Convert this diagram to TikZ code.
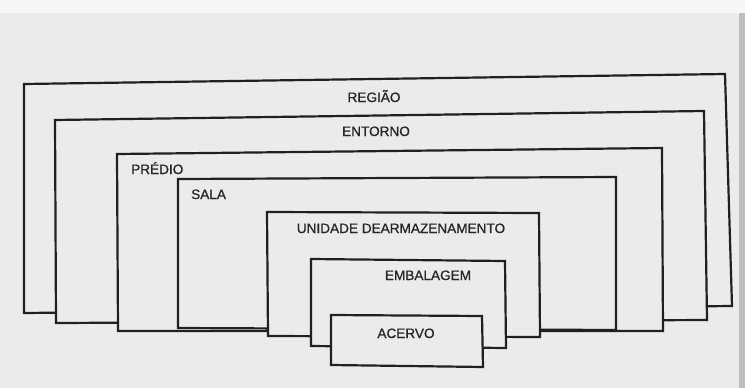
\documentclass[tikz,border=0pt]{standalone}
\usepackage{fontspec}
\setmainfont{Liberation Sans}[FakeBold=0.9]
\definecolor{paper}{HTML}{EBEBEB}
\definecolor{ink}{HTML}{202020}
\definecolor{txt}{HTML}{262626}
\tikzset{
  box/.style={draw=ink, line width=2.2pt, fill=paper, line join=miter},
  lbl/.style={text=txt, font=\fontsize{13.6}{16}\selectfont, inner sep=0pt, anchor=base},
  lblw/.style={lbl, anchor=base west}
}
\begin{document}
\begin{tikzpicture}[x=1pt,y=-1pt]
\useasboundingbox (0,0) rectangle (745,388);
\fill[paper] (0,0) rectangle (745,388);
\fill[white!60!paper] (0,0) rectangle (745,13);
\fill[black!25] (739,13) rectangle (745,388);
% REGIAO
\draw[box] (24,84) -- (725,74) -- (732,306) -- (24,313) -- cycle;
% ENTORNO
\draw[box] (55,120) -- (704,111) -- (707,320) -- (56,323) -- cycle;
% PREDIO
\draw[box] (117,154) -- (662,148) -- (663,331) -- (118,331) -- cycle;
% SALA
\draw[box] (178,179) -- (616,177) -- (616,330) -- (178,328) -- cycle;
% UNIDADE
\draw[box] (267,212) -- (539,213) -- (540,337) -- (268,336) -- cycle;
% EMBALAGEM
\draw[box] (311,259) -- (505,261) -- (506,348) -- (311,346) -- cycle;
% ACERVO
\draw[box] (331,315) -- (482,316) -- (483,367) -- (331,365) -- cycle;
% labels
\node[lbl] (regiao) at (374,102) {REGIÃO};
\node[lbl] (entorno) at (376,136) {ENTORNO};
\node[lblw] (predio) at (131,174) {PRÉDIO};
\node[lblw] (sala) at (191,199) {SALA};
\node[lbl] (unidade) at (401,233) {UNIDADE DEARMAZENAMENTO};
\node[lbl] (embalagem) at (428,280) {EMBALAGEM};
\node[lbl] (acervo) at (406,338) {ACERVO};
\end{tikzpicture}
\end{document}
